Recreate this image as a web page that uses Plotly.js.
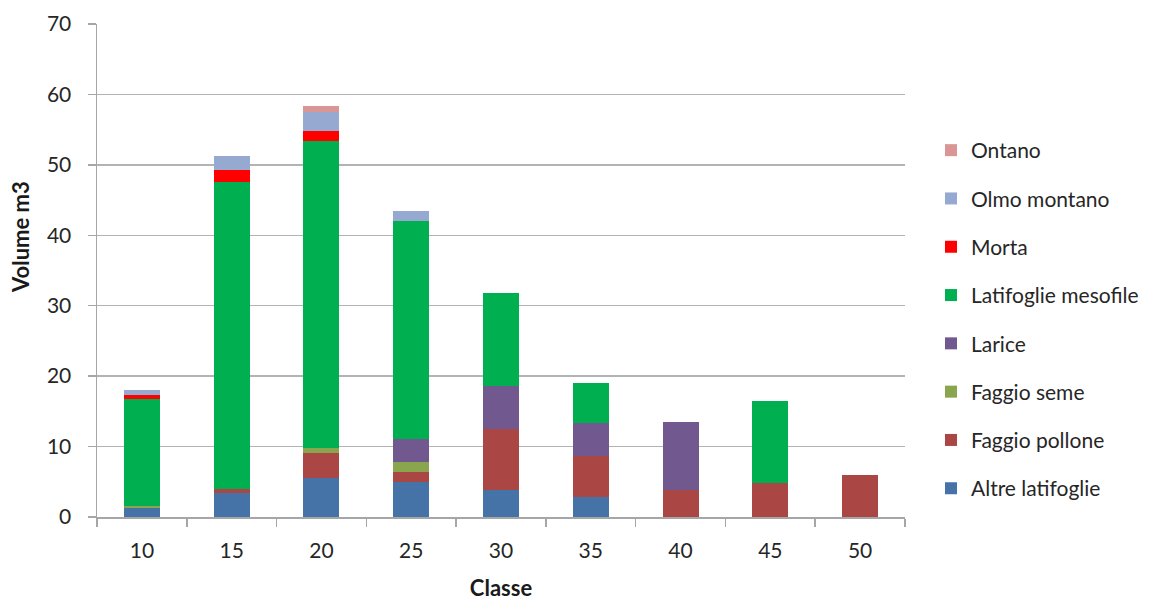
<!DOCTYPE html>
<html>
<head>
<meta charset="utf-8">
<script src="https://cdn.plot.ly/plotly-3.0.1.min.js"></script>
<style>html,body{margin:0;padding:0;background:#fff;}#chart{width:1169px;height:601px;}</style>
</head>
<body>
<div id="chart"></div>
<script>
const categories = ["10", "15", "20", "25", "30", "35", "40", "45", "50"];

const altreLatifoglie   = [1.3, 3.4, 5.6, 4.9, 3.9, 2.8, 0, 0, 0];
const faggioPollone     = [0, 0.55, 3.45, 1.45, 8.6, 5.9, 3.8, 4.8, 5.9];
const faggioSeme        = [0.2, 0, 0.7, 1.45, 0, 0, 0, 0, 0];
const larice            = [0, 0, 0, 3.25, 6.15, 4.7, 9.65, 0, 0];
const latifoglieMesofile= [15.2, 43.65, 43.7, 31.0, 13.15, 5.65, 0, 11.7, 0];
const morta             = [0.6, 1.7, 1.35, 0, 0, 0, 0, 0, 0];
const olmoMontano       = [0.8, 2.0, 2.7, 1.45, 0, 0, 0, 0, 0];
const ontano            = [0, 0, 0.8, 0, 0, 0, 0, 0, 0];

const seriesNames = ["Altre latifoglie", "Faggio pollone", "Faggio seme", "Larice",
                     "Latifoglie mesofile", "Morta", "Olmo montano", "Ontano"];
const seriesValues = [altreLatifoglie, faggioPollone, faggioSeme, larice,
                      latifoglieMesofile, morta, olmoMontano, ontano];
const seriesColors = ["#4572A7", "#AA4643", "#89A54E", "#71588F",
                      "#00B050", "#FF0000", "#95A9D1", "#D99694"];

const FONT = "Lato, 'Open Sans', 'DejaVu Sans', sans-serif";

const traces = seriesNames.map((name, i) => ({
  type: "bar",
  name: name,
  x: categories,
  y: seriesValues[i],
  legendgroup: name,
  legendrank: 1000 - i,
  marker: { color: seriesColors[i], line: { width: 0 } },
  hoverinfo: "x+y+name"
}));

const layout = {
  width: 1169,
  height: 601,
  paper_bgcolor: "#ffffff",
  plot_bgcolor: "#ffffff",
  margin: { l: 97, r: 264, t: 24, b: 84 },
  barmode: "stack",
  bargap: 0.6,
  font: { family: FONT, size: 21, color: "#262626" },
  xaxis: {
    type: "category",
    tickson: "boundaries",
    ticks: "outside",
    ticklen: 8,
    tickcolor: "#a6a6a6",
    tickwidth: 1.5,
    showline: true,
    linecolor: "#a6a6a6",
    linewidth: 1.5,
    showgrid: false,
    ticklabelstandoff: 14,
    tickfont: { family: FONT, size: 21, color: "#262626" },
    title: { text: "<b>Classe</b>", font: { family: FONT, size: 22, color: "#1a1a1a" }, standoff: 23 }
  },
  yaxis: {
    range: [0, 70],
    dtick: 10,
    ticks: "outside",
    ticklen: 8,
    tickcolor: "#a6a6a6",
    tickwidth: 1.5,
    showline: true,
    linecolor: "#a6a6a6",
    linewidth: 1.5,
    showgrid: true,
    gridcolor: "#b3b3b3",
    gridwidth: 1.5,
    zeroline: false,
    ticklabelstandoff: 12,
    tickfont: { family: FONT, size: 21, color: "#262626" }
  },
  annotations: [{
    text: "<b>Volume m3</b>",
    textangle: -90,
    xref: "paper", yref: "paper",
    x: (20 - 97) / 808, y: (517 - 237) / 493,
    xanchor: "center", yanchor: "middle",
    showarrow: false,
    font: { family: FONT, size: 22, color: "#1a1a1a" }
  }],
  showlegend: true,
  legend: {
    traceorder: "grouped",
    tracegroupgap: 18,
    x: (931 - 97) / 808,
    xanchor: "left",
    y: (517 - 130) / 493,
    yanchor: "top",
    font: { family: FONT, size: 21, color: "#262626" },
    bgcolor: "rgba(0,0,0,0)"
  }
};

Plotly.newPlot("chart", traces, layout, { displayModeBar: false, staticPlot: true });
</script>
</body>
</html>
